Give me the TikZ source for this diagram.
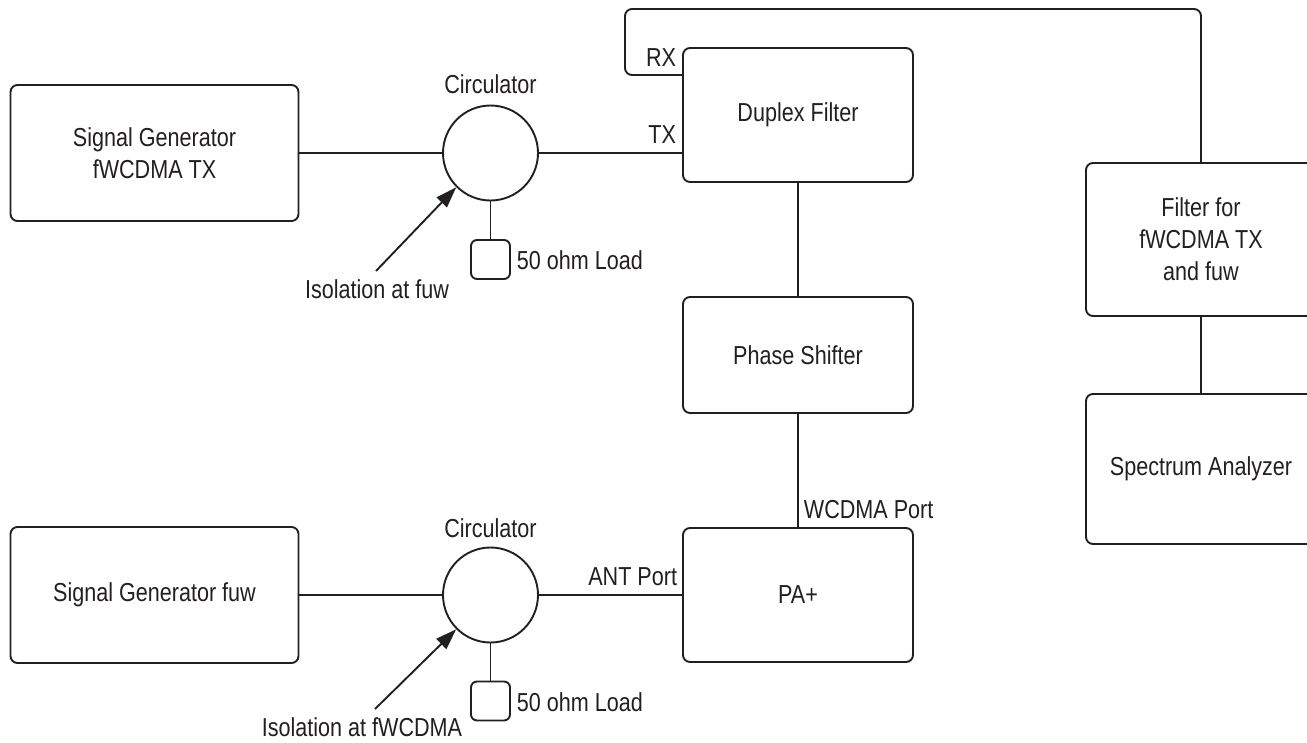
\documentclass[tikz,border=0pt]{standalone}
\usepackage{fontspec}
\setmainfont{Liberation Sans}[FakeStretch=0.83]
\usetikzlibrary{arrows.meta}
\definecolor{ink}{RGB}{35,31,32}
\begin{document}
\begin{tikzpicture}[x=1pt,y=-1pt, line width=1.9pt, draw=ink,
  every node/.style={text=ink, font=\fontsize{26}{32}\selectfont},
  box/.style={draw=ink, rounded corners=7pt, align=center, inner sep=0pt},
  circ/.style={draw=ink, circle, minimum size=95pt, inner sep=0pt},
  loadbox/.style={draw=ink, rounded corners=6pt, minimum size=39pt, inner sep=0pt},
  lbl/.style={inner sep=0pt},
  arr/.style={-{Triangle[length=21pt,width=14pt]}}]
\clip (0,0) rectangle (1307,742);
\fill[white] (0,0) rectangle (1307,742);

% blocks
\node[box, minimum width=288pt, minimum height=136pt] (sg1) at (154.5,153) {Signal Generator\\fWCDMA TX};
\node[box, minimum width=288pt, minimum height=136pt] (sg2) at (154.5,595) {Signal Generator fuw};
\node[box, minimum width=230pt, minimum height=134pt] (dup) at (798,115) {Duplex Filter};
\node[box, minimum width=230pt, minimum height=116pt] (ps) at (798,355) {Phase Shifter};
\node[box, minimum width=230pt, minimum height=134pt] (pa) at (798,595) {PA+};
\node[box, minimum width=230pt, minimum height=153pt] (filt) at (1201,239.5) {Filter for\\fWCDMA TX\\and fuw};
\node[box, minimum width=230pt, minimum height=150pt] (sa) at (1201,469) {Spectrum Analyzer};

% circulators and loads
\node[circ] (c1) at (490.5,153) {};
\node[circ] (c2) at (490.5,595) {};
\node[lbl] (c1l) at (490.5,84) {Circulator};
\node[lbl] (c2l) at (490.5,528) {Circulator};
\node[loadbox] (l1) at (490.5,259.5) {};
\node[loadbox] (l2) at (490.5,701) {};
\node[lbl, anchor=west] (l1t) at (516,260) {50 ohm Load};
\node[lbl, anchor=west] (l2t) at (516,702) {50 ohm Load};

% port labels
\node[lbl, anchor=east] (rx) at (677,58) {RX};
\node[lbl, anchor=east] (tx) at (677,135) {TX};
\node[lbl, anchor=east] (ant) at (678,577) {ANT Port};
\node[lbl, anchor=west] (wp) at (803,510) {WCDMA Port};

% isolation labels
\node[lbl] (iso1) at (377,289) {Isolation at fuw};
\node[lbl] (iso2) at (362,727) {Isolation at fWCDMA};
\coordinate (a1) at (376,271);
\coordinate (a2) at (375,709);

% connectors
\draw (sg1.east) -- (c1.west);
\draw (c1.east) -- (c1.east -| dup.west);
\draw (sg2.east) -- (c2.west);
\draw (c2.east) -- (c2.east -| pa.west);
\draw (c1.south) -- (l1.north);
\draw (c2.south) -- (l2.north);
\draw (dup.south) -- (ps.north);
\draw (ps.south) -- (pa.north);
\draw (filt.south) -- (sa.north);
\coordinate (rxp) at ([yshift=40pt]dup.west);
\draw[rounded corners=7pt] (rxp) -- (625,75) -- (625,9) -- (filt.north |- 0,9) -- (filt.north);
\draw[arr] (a1) -- (c1.south west);
\draw[arr] (a2) -- (c2.south west);
\end{tikzpicture}
\end{document}
